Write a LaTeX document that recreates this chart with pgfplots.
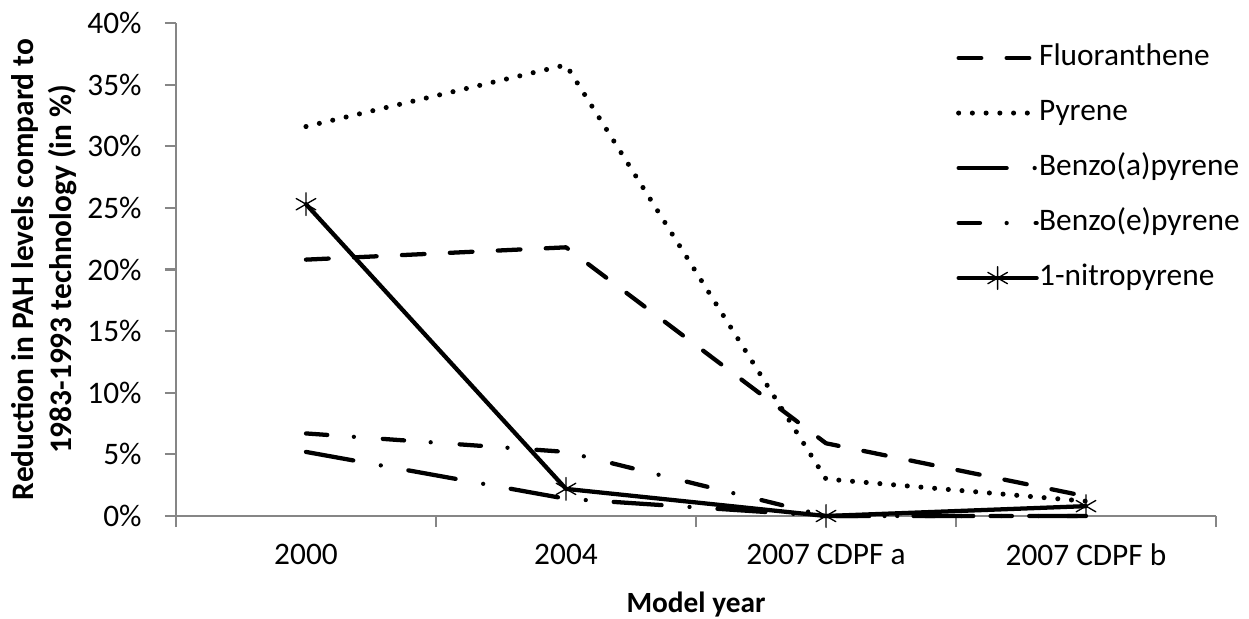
\documentclass[border=0pt]{standalone}
\usepackage{fontspec}
\setmainfont{Carlito}
\usepackage{pgfplots}
\pgfplotsset{compat=1.18}
\definecolor{axgray}{HTML}{868686}
\pgfplotstableread{
x  fl    py    ba   be   np
0  20.8  31.6  5.2  6.7  25.3
1  21.8  36.6  1.4  5.2  2.2
2  5.9   3.0   0.0  0.0  0.0
3  1.6   1.2   0.0  0.0  0.8
}\data
\begin{document}
\begin{tikzpicture}
\useasboundingbox (-132pt,-76.5pt) rectangle (804.75pt,387pt);
\begin{axis}[
  scale only axis, width=780pt, height=369.75pt,
  at={(0pt,0pt)}, anchor=south west,
  xmin=-0.5, xmax=3.5, ymin=0, ymax=40,
  axis x line*=bottom, axis y line*=left,
  axis line style={axgray, line width=1.8pt, -},
  xtick={-0.5,0.5,1.5,2.5,3.5}, xticklabels={},
  extra x ticks={0,1,2,3},
  extra x tick labels={2000,2004,2007 CDPF a,2007 CDPF b},
  extra x tick style={major tick length=0pt},
  ytick={0,5,...,40},
  yticklabel={\pgfmathprintnumber{\tick}\%},
  /pgf/number format/assume math mode=true,
  tick align=outside, major tick length=8.25pt,
  tick style={axgray, line width=1.6pt},
  tick label style={font=\fontsize{23.5}{28}\selectfont, text=black},
  xticklabel style={yshift=-17.5pt},
  yticklabel style={xshift=-14pt},
  xlabel={\textbf{Model year}},
  xlabel style={font=\fontsize{22}{26}\selectfont, at={(axis description cs:0.5,-0.1805)}, anchor=center},
  ylabel={\textbf{Reduction in PAH levels compard to}\\\textbf{1983-1993 technology (in \%)}},
  ylabel style={font=\fontsize{23.5}{29}\selectfont, align=center, at={(axis description cs:-0.1269,0.5)}, anchor=center},
  legend image code/.code={\draw[mark repeat=2,mark phase=2,#1] plot coordinates {(0pt,0pt) (29.25pt,0pt) (58.5pt,0pt)};},
  legend style={at={(rel axis cs:0.746,0.966)}, anchor=north west, draw=none, fill=none,
    font=\fontsize{23.5}{28}\selectfont, row sep=18.25pt,
    nodes={inner sep=0pt, text height=17pt, text depth=6pt},
    /tikz/every even column/.append style={column sep=16pt}},
  legend cell align=left,
  every axis plot/.append style={black, line width=3.2pt, line cap=round, line join=round},
  clip=false,
]
\addplot[dash pattern=on 17pt off 19pt] table[x=x,y=fl] {\data};
\addlegendentry{Fluoranthene}
\addplot[line width=3.8pt, dash pattern=on 0pt off 10.3pt] table[x=x,y=py] {\data};
\addlegendentry{Pyrene}
\addplot[dash pattern=on 36pt off 21pt on 0pt off 21pt] table[x=x,y=ba] {\data};
\addlegendentry{Benzo(a)pyrene}
\addplot[dash pattern=on 16pt off 20pt on 0pt off 21.75pt] table[x=x,y=be] {\data};
\addlegendentry{Benzo(e)pyrene}
\addplot[mark=asterisk, mark size=8.5pt, mark options={line width=1pt, solid}] table[x=x,y=np] {\data};
\addlegendentry{1-nitropyrene}
\end{axis}
\end{tikzpicture}
\end{document}
